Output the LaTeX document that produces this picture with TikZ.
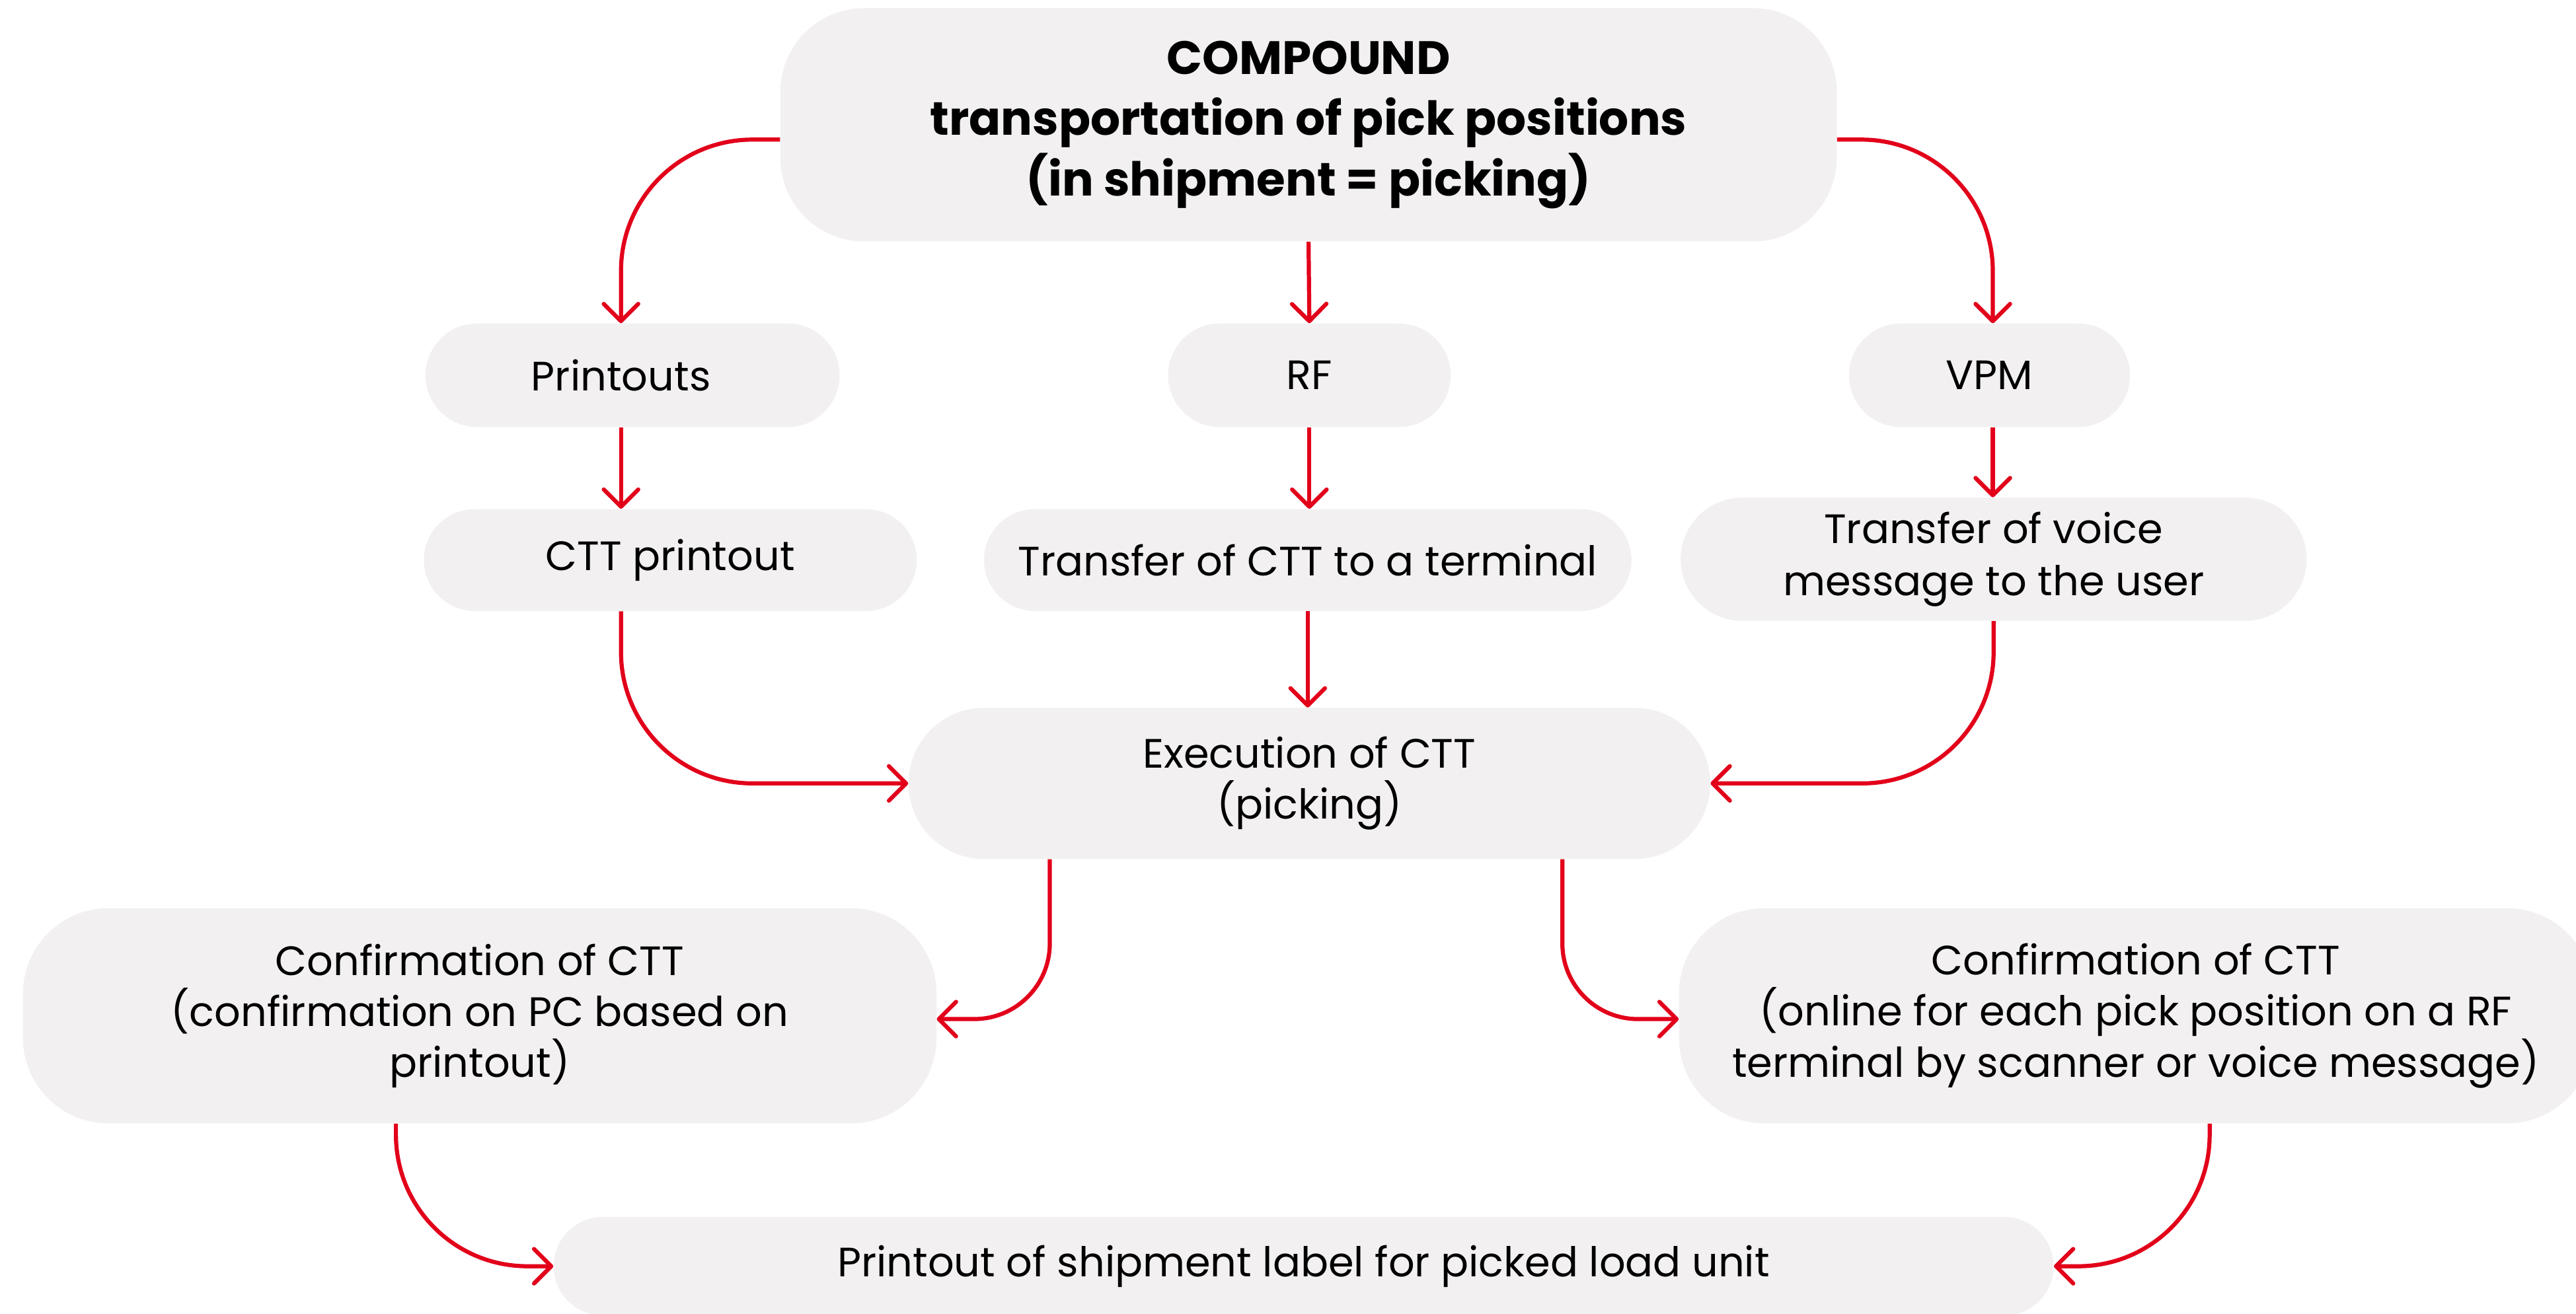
\documentclass[tikz,border=0pt]{standalone}
\usepackage{fontspec}
\setmainfont{Poppins}
\usetikzlibrary{arrows.meta}
\definecolor{boxgray}{HTML}{F2F0F1}
\definecolor{flowred}{HTML}{E2001A}
\begin{document}
\begin{tikzpicture}[x=1pt,y=-1pt,
  box/.style={fill=boxgray, draw=none, inner sep=0pt, align=center,
    font=\fontsize{25}{31}\selectfont},
  conn/.style={draw=flowred, line width=2.5pt,
    -{Straight Barb[length=10.5pt,width=21pt,line cap=round,line join=round]}}]
\clip (0,0) rectangle (1568,800);
\fill[white] (0,0) rectangle (1568,800);

\node[box, minimum width=643pt, minimum height=142pt, rounded corners=51pt,
  font=\fontsize{28.5}{37}\selectfont\bfseries] (top) at (796.5,76)
  {\raisebox{-3pt}{\parbox{600pt}{\centering COMPOUND\\transportation of pick positions\\(in shipment = picking)}}};
\node[box, minimum width=252pt, minimum height=63pt, rounded corners=31.5pt] (printouts) at (385,228.5) {Printouts\hspace*{14pt}};
\node[box, minimum width=172pt, minimum height=63pt, rounded corners=31.5pt] (rf) at (797,228.5) {RF};
\node[box, minimum width=171pt, minimum height=63pt, rounded corners=31.5pt] (vpm) at (1211,228.5) {VPM};
\node[box, minimum width=300pt, minimum height=62pt, rounded corners=31pt] (ctt) at (408,341) {CTT printout};
\node[box, minimum width=394pt, minimum height=62pt, rounded corners=31pt] (xfer) at (796,341) {Transfer of CTT to a terminal};
\node[box, minimum width=381pt, minimum height=75pt, rounded corners=37.5pt,
  font=\fontsize{25}{32}\selectfont] (voice) at (1213.5,340.5) {Transfer of voice\\message to the user};
\node[box, minimum width=488pt, minimum height=92pt, rounded corners=46pt] (exec) at (797,477) {Execution of CTT\\(picking)};
\node[box, minimum width=556pt, minimum height=131pt, rounded corners=52pt] (confL) at (292,618.5) {Confirmation of CTT\\(confirmation on PC based on\\printout)};
\node[box, minimum width=556pt, minimum height=131pt, rounded corners=52pt] (confR) at (1300,618.5) {Confirmation of CTT\\(online for each pick position on a RF\\terminal by scanner or voice message)};
\node[box, minimum width=913pt, minimum height=60pt, rounded corners=30pt] (bot) at (793.5,771) {Printout of shipment label for picked load unit};

\draw[conn, rounded corners=80pt] ([yshift=-9pt]top.west) -| ([xshift=-7pt]printouts.north);
\draw[conn, rounded corners=80pt] ([yshift=-9pt]top.east) -| ([xshift=2pt]vpm.north);
\draw[conn] (top.south) -- (rf.north);
\draw[conn] ([xshift=-7pt]printouts.south) -- ([xshift=-7pt]printouts.south |- ctt.north);
\draw[conn] (rf.south) -- (rf.south |- xfer.north);
\draw[conn] ([xshift=2pt]vpm.south) -- ([xshift=2pt]vpm.south |- voice.north);
\draw[conn, rounded corners=80pt] ([xshift=-7pt]printouts.south |- ctt.south) |- (exec.west);
\draw[conn] (xfer.south) -- (xfer.south |- exec.north);
\draw[conn, rounded corners=80pt] (voice.south) |- (exec.east);
\draw[conn, rounded corners=46pt] ([xshift=-158pt]exec.south) |- ([yshift=-2pt]confL.east);
\draw[conn, rounded corners=46pt] ([xshift=154pt]exec.south) |- ([yshift=-2pt]confR.west);
\draw[conn, rounded corners=80pt] ([xshift=-51pt]confL.south) |- (bot.west);
\draw[conn, rounded corners=80pt] ([xshift=45pt]confR.south) |- (bot.east);
\end{tikzpicture}
\end{document}
